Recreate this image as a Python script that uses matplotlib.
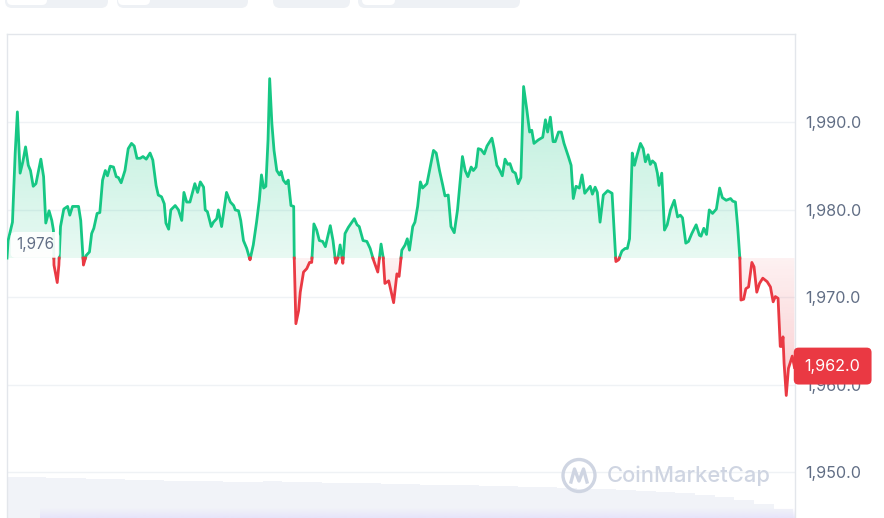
import numpy as np
import matplotlib
matplotlib.use("Agg")
import matplotlib.pyplot as plt
from matplotlib.colors import to_rgb
from matplotlib.patches import FancyBboxPatch, Circle
from matplotlib.lines import Line2D

plt.rcParams["font.family"] = ["Inter", "DejaVu Sans"]

# minutes since the start of the day, and the price at that moment
times = [
    0, 2, 10, 15, 19, 24, 29, 34, 39, 43,
    48, 53, 62, 67, 71, 77, 82, 85, 86, 92,
    95, 98, 104, 111, 115, 120, 131, 135, 140, 145,
    151, 155, 159, 165, 170, 175, 180, 184, 189, 195,
    200, 204, 209, 216, 222, 228, 233, 238, 244, 249,
    255, 262, 267, 273, 277, 283, 288, 291, 296, 300,
    308, 314, 320, 324, 329, 335, 344, 349, 354, 360,
    363, 367, 374, 378, 384, 387, 393, 402, 409, 415,
    418, 424, 428, 433, 439, 445, 451, 457, 462, 466,
    470, 474, 478, 481, 485, 489, 494, 499, 502, 506,
    511, 515, 520, 525, 526, 529, 534, 537, 543, 549,
    554, 558, 562, 567, 572, 578, 583, 592, 597, 602,
    606, 610, 615, 619, 625, 636, 641, 645, 652, 659,
    665, 671, 679, 685, 689, 692, 699, 708, 714, 718,
    723, 729, 733, 737, 743, 747, 752, 757, 761, 769,
    775, 781, 786, 792, 798, 802, 808, 813, 819, 825,
    834, 839, 844, 850, 854, 859, 863, 868, 874, 879,
    888, 892, 897, 901, 907, 912, 917, 921, 926, 931,
    936, 941, 946, 952, 957, 961, 965, 973, 981, 986,
    990, 995, 1000, 1004, 1010, 1015, 1020, 1028, 1033, 1037,
    1042, 1048, 1053, 1058, 1063, 1068, 1072, 1077, 1081, 1086,
    1092, 1100, 1108, 1115, 1120, 1126, 1132, 1136, 1140, 1145,
    1149, 1154, 1160, 1165, 1169, 1174, 1178, 1182, 1187, 1191,
    1194, 1199, 1204, 1209, 1215, 1222, 1228, 1233, 1237, 1243,
    1248, 1254, 1262, 1268, 1271, 1276, 1281, 1286, 1292, 1299,
    1305, 1310, 1317, 1325, 1329, 1334, 1338, 1342, 1344, 1349,
    1353, 1358, 1364, 1368, 1373, 1378, 1384, 1392, 1398, 1403,
    1407, 1412, 1416, 1419, 1421, 1423, 1427, 1431, 1438, 1442,
]
prices = [
    1974.5, 1976.5, 1978.6, 1986.5, 1991.2, 1984.2, 1985.5, 1987.2, 1985.1, 1984.5,
    1982.7, 1983.0, 1985.8, 1983.8, 1978.5, 1979.9, 1978.8, 1977.7, 1973.7, 1971.7,
    1973.7, 1978.1, 1980.1, 1980.4, 1979.4, 1980.4, 1980.4, 1978.8, 1973.7, 1974.8,
    1975.2, 1977.3, 1977.9, 1979.6, 1979.7, 1983.4, 1984.5, 1983.9, 1985.0, 1984.9,
    1983.8, 1983.7, 1983.1, 1984.5, 1987.0, 1987.6, 1987.3, 1985.9, 1985.9, 1986.1,
    1985.8, 1986.5, 1985.7, 1982.8, 1981.7, 1981.5, 1980.7, 1978.5, 1977.8, 1980.0,
    1980.5, 1980.0, 1978.8, 1982.0, 1980.9, 1980.9, 1983.0, 1982.0, 1983.2, 1982.6,
    1980.0, 1979.8, 1978.1, 1978.6, 1979.0, 1980.0, 1978.1, 1982.0, 1980.9, 1980.5,
    1980.0, 1979.9, 1978.8, 1976.5, 1975.6, 1974.3, 1976.0, 1978.6, 1981.1, 1984.0,
    1982.5, 1982.7, 1988.0, 1995.0, 1989.9, 1986.8, 1984.5, 1984.0, 1984.4, 1983.4,
    1983.0, 1983.4, 1980.5, 1980.4, 1974.5, 1967.0, 1968.5, 1970.6, 1972.9, 1973.3,
    1974.0, 1974.0, 1978.4, 1977.7, 1976.5, 1976.4, 1975.8, 1978.2, 1976.5, 1973.9,
    1974.5, 1976.0, 1973.9, 1977.3, 1978.0, 1979.0, 1978.3, 1978.1, 1976.5, 1976.4,
    1975.6, 1974.3, 1972.9, 1976.1, 1974.5, 1971.6, 1971.9, 1969.4, 1972.7, 1972.4,
    1975.4, 1976.0, 1976.7, 1975.4, 1978.1, 1978.6, 1980.4, 1983.2, 1982.5, 1983.0,
    1984.9, 1986.8, 1986.5, 1984.5, 1982.8, 1981.6, 1981.7, 1978.1, 1977.4, 1980.0,
    1986.1, 1984.5, 1983.8, 1984.9, 1984.5, 1984.9, 1987.0, 1986.9, 1986.4, 1987.3,
    1988.2, 1987.0, 1985.1, 1984.7, 1983.9, 1985.8, 1985.2, 1985.3, 1984.4, 1984.2,
    1983.0, 1983.7, 1994.1, 1991.4, 1988.9, 1989.1, 1987.6, 1988.0, 1988.3, 1990.3,
    1988.9, 1990.6, 1987.8, 1987.8, 1988.9, 1988.9, 1987.6, 1986.1, 1985.1, 1981.3,
    1982.7, 1982.5, 1984.0, 1981.9, 1982.3, 1982.7, 1981.8, 1982.6, 1982.0, 1978.6,
    1981.7, 1982.2, 1981.9, 1974.1, 1974.3, 1975.3, 1975.6, 1975.6, 1976.7, 1986.5,
    1985.1, 1986.3, 1987.6, 1987.0, 1985.5, 1986.3, 1985.2, 1985.6, 1985.3, 1984.2,
    1982.8, 1984.2, 1977.7, 1978.3, 1980.0, 1981.1, 1979.2, 1979.4, 1979.1, 1976.2,
    1976.4, 1977.3, 1978.3, 1977.1, 1977.0, 1977.9, 1977.2, 1980.0, 1979.6, 1980.1,
    1982.5, 1981.4, 1981.1, 1981.3, 1981.0, 1980.9, 1978.1, 1974.5, 1969.7, 1969.8,
    1971.0, 1971.2, 1974.0, 1973.5, 1970.6, 1971.6, 1972.2, 1971.8, 1971.2, 1969.5,
    1970.1, 1969.9, 1964.4, 1964.4, 1965.5, 1962.5, 1958.8, 1961.9, 1963.3, 1962.0,
]
base_price = 1974.5
base_label = "1,976"
last_label = "1,962.0"

# volume bars (one every 36 minutes)
vol_times = [18 + 36 * i for i in range(40)]
volumes = [41, 41, 40, 40, 39, 39, 38, 38, 37, 37,
           37, 36, 36, 37, 36, 36, 35, 35, 35, 34,
           34, 33, 33, 33, 32, 32, 31, 31, 30, 29,
           29, 28, 27, 26, 25, 23, 21, 18, 14, 9]

y_ticks = [1950, 1960, 1970, 1980, 1990]

GREEN = "#16c784"
RED = "#ea3943"
GRID = "#eff2f5"
TEXT = "#616e85"


def split_at_base(t, p, base):
    ts, ps = [t[0]], [p[0]]
    for i in range(1, len(t)):
        a, b = p[i - 1] - base, p[i] - base
        if a * b < 0:
            ts.append(t[i - 1] + (t[i] - t[i - 1]) * a / (a - b))
            ps.append(base)
        ts.append(t[i])
        ps.append(p[i])
    return np.array(ts, dtype=float), np.array(ps, dtype=float)


def gradient_fill(ax, t, lo, hi, color, a_lo, a_hi, y_lo, y_hi):
    poly = ax.fill_between(t, lo, hi, facecolor="none", linewidth=0)
    grad = np.zeros((256, 1, 4))
    grad[..., :3] = to_rgb(color)
    grad[..., 3] = np.linspace(a_lo, a_hi, 256)[:, None]
    im = ax.imshow(grad, extent=[t[0], t[-1], y_lo, y_hi], origin="lower",
                   aspect="auto", zorder=1, interpolation="bilinear")
    im.set_clip_path(poly.get_paths()[0], transform=ax.transData)


def main():
    fig = plt.figure(figsize=(8.84, 5.18), dpi=100)

    # tabs peeking in at the top
    for x0, x1 in [(5, 108), (117, 248), (273, 350), (358, 520)]:
        fig.add_artist(FancyBboxPatch((x0 / 100, 5.10), (x1 - x0) / 100, 0.2,
                                      boxstyle="round,pad=0,rounding_size=0.07",
                                      transform=fig.dpi_scale_trans,
                                      fc="#eef1f5", ec="none"))
    for x0, x1 in [(7, 47), (118, 150), (362, 395)]:
        fig.add_artist(FancyBboxPatch((x0 / 100, 5.13), (x1 - x0) / 100, 0.2,
                                      boxstyle="round,pad=0,rounding_size=0.05",
                                      transform=fig.dpi_scale_trans,
                                      fc="white", ec="none"))

    # volume strip
    vax = fig.add_axes([7 / 884, 0, 788 / 884, 48 / 518])
    vax.bar(vol_times, volumes, width=36, color="#f1f3f8", linewidth=0)
    vax.set_xlim(0, 1443)
    vax.set_ylim(0, 48)
    vax.axis("off")
    fade = np.zeros((64, 1, 4))
    fade[..., :3] = to_rgb("#e6e3fb")
    fade[..., 3] = np.linspace(0.9, 0.0, 64)[:, None]
    vax.imshow(fade, extent=[60, 1443, 0, 10], origin="lower", aspect="auto",
               zorder=3)
    vax.set_xlim(0, 1443)
    vax.set_ylim(0, 48)

    ax = fig.add_axes([7 / 884, 0, 788 / 884, 484 / 518])
    ax.patch.set_alpha(0)

    ts, ps = split_at_base(times, prices, base_price)
    up = np.where(ps >= base_price, ps, np.nan)
    down = np.where(ps <= base_price, ps, np.nan)

    gradient_fill(ax, ts, base_price, np.maximum(ps, base_price), GREEN,
                  0.10, 0.30, base_price, 1995.5)
    gradient_fill(ax, ts, np.minimum(ps, base_price), base_price, RED,
                  0.26, 0.07, 1958.5, base_price)

    ax.plot(ts, up, color=GREEN, lw=2.0, zorder=3, solid_joinstyle="round")
    ax.plot(ts, down, color=RED, lw=2.0, zorder=3, solid_joinstyle="round")

    ax.set_xlim(0, 1443)
    ax.set_ylim(1944.8, 2000.1)
    ax.set_yticks(y_ticks)
    ax.set_yticklabels([f"{v:,.1f}" for v in y_ticks])
    ax.yaxis.tick_right()
    ax.tick_params(axis="y", length=0, pad=7.2, labelsize=11.6, labelcolor=TEXT)
    ax.set_xticks([])
    ax.grid(axis="y", color=GRID, lw=1)
    ax.set_axisbelow(True)
    for side in ["top", "left", "right"]:
        ax.spines[side].set_color("#e3e6eb")
        ax.spines[side].set_linewidth(1)
    ax.spines["bottom"].set_visible(False)

    ax.annotate(base_label, xy=(times[0], base_price), xytext=(6.5, 9.5),
                textcoords="offset points", ha="left", va="center",
                fontsize=11, color=TEXT, zorder=6,
                bbox=dict(boxstyle="round,pad=0.35,rounding_size=0.3",
                          fc="white", ec="none", alpha=0.92))
    ax.annotate(last_label, xy=(1, prices[-1]), xycoords=("axes fraction", "data"),
                xytext=(7.0, 1.0), textcoords="offset points", ha="left",
                va="center", fontsize=11.6, color="white", zorder=10,
                annotation_clip=False,
                bbox=dict(boxstyle="round,pad=0.68,rounding_size=0.3",
                          fc=RED, ec="none"))

    # watermark
    wm = "#cfd5e2"
    fig.add_artist(Circle((5.79, 0.425), 0.16, transform=fig.dpi_scale_trans,
                          fill=False, ec=wm, lw=2.4, zorder=20))
    fig.add_artist(Line2D([5.71, 5.745, 5.79, 5.835, 5.87],
                          [0.36, 0.49, 0.37, 0.49, 0.36],
                          transform=fig.dpi_scale_trans, color=wm, lw=2.4,
                          zorder=20, solid_joinstyle="round"))
    fig.text(6.07 / 8.84, 0.42 / 5.18, "CoinMarketCap", fontsize=15.8,
             color=wm, va="center", ha="left", zorder=20, fontweight="medium")

    fig.savefig("out.png", dpi=100)


if __name__ == "__main__":
    main()
